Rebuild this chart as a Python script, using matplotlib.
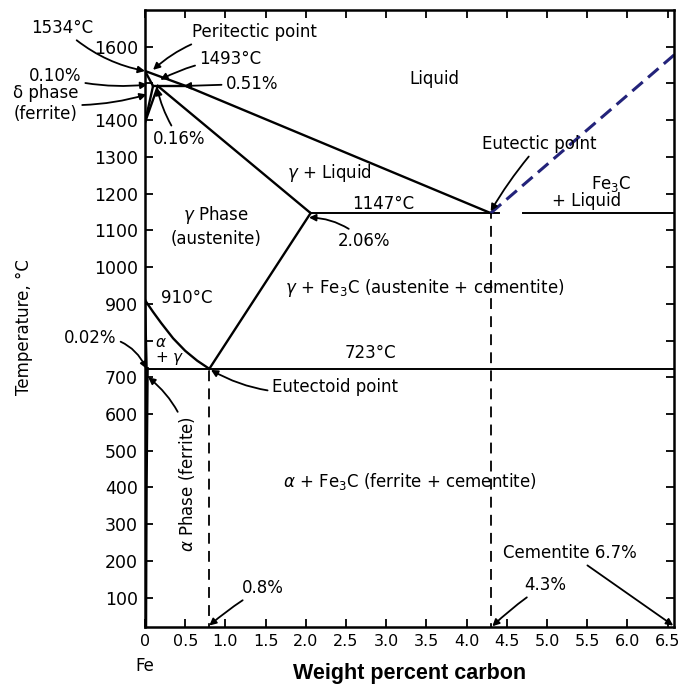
import matplotlib
matplotlib.use("Agg")
import matplotlib.pyplot as plt
import numpy as np

# ---------------- data (wt% C, temperature °C) ----------------
liquidus_x = [0.0, 0.51, 4.3]
liquidus_T = [1534, 1493, 1147]
delta_solidus_x = [0.0, 0.10]
delta_solidus_T = [1534, 1493]
peritectic_x = [0.10, 0.51]
peritectic_T = [1493, 1493]
delta_gamma1_x = [0.10, 0.0]
delta_gamma1_T = [1493, 1394]
delta_gamma2_x = [0.16, 0.0]
delta_gamma2_T = [1493, 1394]
gamma_solidus_x = [0.16, 2.06]
gamma_solidus_T = [1493, 1147]
eutectic_left_x = [2.06, 4.40]
eutectic_right_x = [4.70, 6.70]
eutectic_T = 1147
acm_x = [2.06, 0.8]
acm_T = [1147, 723]
a3_x = [0.0, 0.1, 0.2, 0.35, 0.5, 0.65, 0.8]
a3_T = [910, 878, 848, 806, 772, 745, 723]
alpha_upper_x = [0.0, 0.02]
alpha_upper_T = [910, 723]
alpha_solvus_x = [0.025, 0.02, 0.012, 0.008, 0.005]
alpha_solvus_T = [723, 600, 400, 200, 0]
eutectoid_x = [0.02, 6.70]
eutectoid_T = 723
cementite_liq_x = [4.3, 6.7]
cementite_liq_T = [1147, 1600]
eutectoid_comp = 0.8
eutectic_comp = 4.3

x_ticks = [0, 0.5, 1.0, 1.5, 2.0, 2.5, 3.0, 3.5, 4.0, 4.5, 5.0, 5.5, 6.0, 6.5]
x_ticklabels = ["0", "0.5", "1.0", "1.5", "2.0", "2.5", "3.0", "3.5", "4.0",
                "4.5", "5.0", "5.5", "6.0", "6.5"]
y_ticks = list(range(100, 1700, 100))
y_ticklabels = ["" if t in (800, 1500) else str(t) for t in y_ticks]

# ---------------- figure ----------------
fig = plt.figure(figsize=(6.79, 6.89), dpi=100)
ax = fig.add_axes([145 / 679, 1 - 627 / 689, (674 - 145) / 679, (627 - 10) / 689])
ax.set_xlim(0, 6.58)
ax.set_ylim(20, 1700)

lw = 1.7
k = "black"
ax.plot(liquidus_x, liquidus_T, color=k, lw=lw)
ax.plot(delta_solidus_x, delta_solidus_T, color=k, lw=lw)
ax.plot(peritectic_x, peritectic_T, color=k, lw=lw)
ax.plot(delta_gamma1_x, delta_gamma1_T, color=k, lw=lw)
ax.plot(delta_gamma2_x, delta_gamma2_T, color=k, lw=lw)
ax.plot(gamma_solidus_x, gamma_solidus_T, color=k, lw=lw)
ax.plot(eutectic_left_x, [eutectic_T] * 2, color=k, lw=1.4)
ax.plot(eutectic_right_x, [eutectic_T] * 2, color=k, lw=1.4)
ax.plot(acm_x, acm_T, color=k, lw=lw)
ax.plot(a3_x, a3_T, color=k, lw=lw)
ax.plot(alpha_upper_x, alpha_upper_T, color=k, lw=lw)
ax.plot(alpha_solvus_x, alpha_solvus_T, color=k, lw=2.6)
ax.plot(eutectoid_x, [eutectoid_T] * 2, color=k, lw=1.4)
ax.plot(cementite_liq_x, cementite_liq_T, color="#23237a", lw=2.2,
        linestyle=(0, (4.5, 2.3)))
ax.plot([eutectoid_comp] * 2, [0, eutectoid_T], color=k, lw=1.3,
        linestyle=(0, (6, 4)))
ax.plot([eutectic_comp] * 2, [0, eutectic_T], color=k, lw=1.3,
        linestyle=(0, (6, 4)))

# ---------------- axes styling ----------------
for s in ax.spines.values():
    s.set_linewidth(1.8)
ax.set_xticks(x_ticks)
ax.set_xticklabels(x_ticklabels)
ax.set_yticks(y_ticks)
ax.set_yticklabels(y_ticklabels)
ax.tick_params(direction="in", length=6, width=1.3, top=True, right=True,
               labelsize=12.5, pad=5)
ax.tick_params(axis="x", labelsize=11.5)
ax.set_xlabel("Weight percent carbon", fontsize=15.5, fontweight="bold",
              family="Liberation Sans")
ax.xaxis.set_label_coords((410 - 145) / 529, (627 - 663) / 617)
ax.set_ylabel("Temperature, °C", fontsize=12)
ax.yaxis.set_label_coords((33 - 145) / 529, (627 - 327) / 617)

fs = 12
ap = dict(arrowstyle="-|>", color="black", lw=1.3, mutation_scale=10,
          shrinkA=1, shrinkB=0)


def note(text, xy, xytext, rad=0.0, **kw):
    props = dict(ap)
    props["connectionstyle"] = f"arc3,rad={rad}"
    ax.annotate(text, xy=xy, xytext=xytext, arrowprops=props, fontsize=fs,
                annotation_clip=False, **kw)


# region labels
ax.text(3.60, 1513, "Liquid", fontsize=fs, ha="center", va="center")
ax.text(2.30, 1255, r"$\gamma$ + Liquid", fontsize=fs, ha="center", va="center")
ax.text(0.88, 1112, "$\\gamma$ Phase\n(austenite)", fontsize=fs, ha="center",
        va="center", linespacing=1.3)
ax.text(2.96, 1171, "1147°C", fontsize=fs, ha="center", va="center")
ax.text(5.80, 1225, r"Fe$_3$C", fontsize=fs, ha="center", va="center")
ax.text(5.49, 1179, "+ Liquid", fontsize=fs, ha="center", va="center")
ax.text(0.52, 915, "910°C", fontsize=fs, ha="center", va="center")
ax.text(3.48, 942, r"$\gamma$ + Fe$_3$C (austenite + cementite)", fontsize=fs,
        ha="center", va="center")
ax.text(0.13, 771, "$\\alpha$\n+ $\\gamma$", fontsize=fs - 1, ha="left",
        va="center", linespacing=1.0)
ax.text(2.80, 766, "723°C", fontsize=fs, ha="center", va="center")
ax.text(3.29, 415, r"$\alpha$ + Fe$_3$C (ferrite + cementite)", fontsize=fs,
        ha="center", va="center")
ax.text(0.0, -85, "Fe", fontsize=fs, ha="center", va="center", clip_on=False)

# annotations with arrows
note("1534°C", (0.0, 1534), (-1.03, 1652), rad=0.15, ha="center", va="center")
note("Peritectic point", (0.10, 1537), (1.36, 1640), rad=0.2, ha="center",
     va="center")
note("1493°C", (0.19, 1510), (1.06, 1567), rad=0.1, ha="center", va="center")
note("0.51%", (0.48, 1493), (1.33, 1499), rad=0.0, ha="center", va="center")
note("0.10%", (0.03, 1497), (-1.12, 1520), rad=0.1, ha="center", va="center")
note("δ phase\n(ferrite)", (0.02, 1470), (-1.24, 1445), rad=0.1, ha="center",
     va="center", linespacing=1.2)
note("0.16%", (0.15, 1488), (0.43, 1350), rad=-0.1, ha="center", va="center")
note("2.06%", (2.04, 1135), (2.73, 1070), rad=0.2, ha="center", va="center")
note("Eutectic point", (4.3, 1152), (4.91, 1336), rad=0.05, ha="center",
     va="center")
note("0.02%", (0.02, 723), (-0.68, 808), rad=-0.35, ha="center", va="center")
note("Eutectoid point", (0.82, 720), (2.36, 673), rad=-0.2, ha="center",
     va="center")
note("$\\alpha$ Phase (ferrite)", (0.04, 700), (0.52, 410), rad=0.3,
     ha="center", va="center", rotation=90)
note("Cementite 6.7%", (6.57, 24), (5.28, 222), rad=0.0, ha="center",
     va="center")
note("0.8%", (0.8, 24), (1.47, 127), rad=0.05, ha="center", va="center")
note("4.3%", (4.32, 22), (4.98, 135), rad=0.05, ha="center", va="center")

fig.savefig("out.png", dpi=100)
